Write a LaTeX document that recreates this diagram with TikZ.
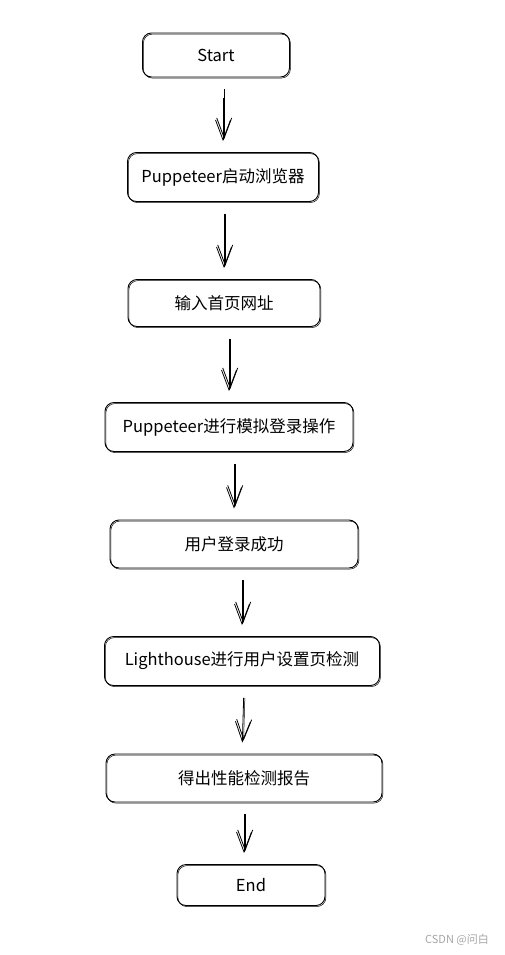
\documentclass[tikz,border=0pt]{standalone}
\usepackage{fontspec}
\setmainfont{Noto Sans CJK SC}
\usetikzlibrary{arrows.meta}

\begin{document}
\begin{tikzpicture}[x=1pt,y=-1pt,
  flowbox/.style={draw,line width=0.9pt,rounded corners=9pt,inner sep=0pt,
    font=\fontsize{16.5}{19}\selectfont,
    preaction={draw,line width=0.5pt,rounded corners=9pt,
      transform canvas={shift={(0.9pt,-1.1pt)}}}},
  flowarrow/.style={-{Straight Barb[length=20pt,width=15pt,line width=0.8pt]},
    line width=0.8pt,shorten <=12pt,shorten >=11pt,
    preaction={draw,line width=0.5pt,shorten <=12pt,shorten >=13pt,
      transform canvas={shift={(1.2pt,0pt)}}}}]

\useasboundingbox (0,0) rectangle (504,955);

% flow steps
\node[flowbox,minimum width=147pt,minimum height=44pt] (start) at (216,55) {Start};
\node[flowbox,minimum width=191pt,minimum height=49pt] (browser) at (223,177) {Puppeteer启动浏览器};
\node[flowbox,minimum width=192pt,minimum height=47pt] (url) at (224,303) {输入首页网址};
\node[flowbox,minimum width=248pt,minimum height=49pt] (login) at (229,427) {Puppeteer进行模拟登录操作};
\node[flowbox,minimum width=248pt,minimum height=48pt] (success) at (234,544) {用户登录成功};
\node[flowbox,minimum width=275pt,minimum height=49pt] (audit) at (242,661) {Lighthouse进行用户设置页检测};
\node[flowbox,minimum width=276pt,minimum height=48pt] (report) at (244,778) {得出性能检测报告};
\node[flowbox,minimum width=148pt,minimum height=41pt] (end) at (251,885) {End};

% arrows
\draw[flowarrow,shorten <=21pt] (start.south -| browser.north) -- (browser.north);
\draw[flowarrow] (browser.south -| url.north) -- (url.north);
\draw[flowarrow] (url.south -| login.north) -- (login.north);
\draw[flowarrow] (login.south -| success.north) -- (success.north);
\draw[flowarrow] (success.south -| audit.north) -- (audit.north);
\draw[flowarrow] (audit.south -| report.north) -- (audit.south |- report.north);
\draw[flowarrow] (report.south) -- (report.south |- end.north);

\node[text=gray!70,font=\fontsize{11}{13}\selectfont] (wm) at (457,940) {CSDN @问白};

\end{tikzpicture}
\end{document}
